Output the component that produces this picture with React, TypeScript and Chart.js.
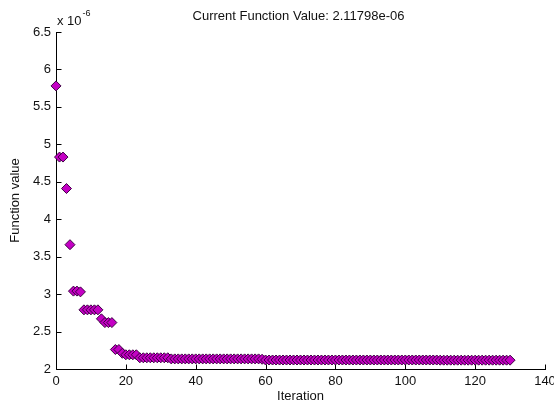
import React, { useEffect, useRef } from "react";
import { Chart, registerables } from "chart.js";

Chart.register(...registerables);

// ---- data (values in units of 1e-6) ----
const chartTitle = "Current Function Value: 2.11798e-06";
const xAxisTitle = "Iteration";
const yAxisTitle = "Function value";
const exponentBase = "x 10";
const exponentPower = "-6";

const xTickValues = [0, 20, 40, 60, 80, 100, 120, 140];
const yTickValues = [2, 2.5, 3, 3.5, 4, 4.5, 5, 5.5, 6, 6.5];

// function value at each iteration 0..130
const functionValues = [
  5.78, 4.83, 4.83, 4.41, 3.66, 3.04, 3.04, 3.03, 2.79, 2.79,
  2.79, 2.79, 2.79, 2.67, 2.62, 2.62, 2.62, 2.26, 2.26, 2.21,
  2.19, 2.19, 2.19, 2.19, 2.15, 2.15, 2.15, 2.15, 2.15, 2.15,
  2.15, 2.15, 2.15, 2.135, 2.135, 2.135, 2.135, 2.135, 2.135, 2.135,
  2.135, 2.135, 2.135, 2.135, 2.135, 2.135, 2.135, 2.135, 2.135, 2.135,
  2.135, 2.135, 2.135, 2.135, 2.135, 2.135, 2.135, 2.135, 2.135, 2.13,
  2.12, 2.12, 2.12, 2.12, 2.12, 2.12, 2.12, 2.12, 2.12, 2.12,
  2.12, 2.12, 2.12, 2.12, 2.12, 2.12, 2.12, 2.12, 2.12, 2.12,
  2.12, 2.12, 2.12, 2.12, 2.12, 2.12, 2.12, 2.12, 2.12, 2.12,
  2.12, 2.12, 2.12, 2.12, 2.12, 2.12, 2.12, 2.12, 2.12, 2.12,
  2.12, 2.12, 2.12, 2.12, 2.12, 2.12, 2.12, 2.12, 2.12, 2.12,
  2.118, 2.118, 2.118, 2.118, 2.118, 2.118, 2.118, 2.118, 2.118, 2.118,
  2.118, 2.118, 2.118, 2.118, 2.118, 2.118, 2.118, 2.118, 2.118, 2.118,
  2.11798,
];

const FONT = '"Liberation Sans", Arial, Helvetica, sans-serif';
const TEXT = "#111111";

const matlabAxes = {
  id: "matlabAxes",
  beforeDatasetsDraw(chart: any) {
    const { ctx, chartArea, scales } = chart;
    const { left, right, top, bottom } = chartArea;
    const x = scales.x;
    const y = scales.y;
    const L = Math.round(left) + 0.5;
    const B = Math.round(bottom) + 0.5;
    ctx.save();
    ctx.strokeStyle = "#000000";
    ctx.lineWidth = 1;
    ctx.beginPath();
    ctx.moveTo(L, Math.round(top));
    ctx.lineTo(L, B);
    ctx.lineTo(Math.round(right) + 1, B);
    yTickValues.forEach((v) => {
      const py = Math.round(y.getPixelForValue(v)) + 0.5;
      ctx.moveTo(L, py);
      ctx.lineTo(L + 5, py);
    });
    xTickValues.forEach((v) => {
      const px = Math.round(x.getPixelForValue(v)) + 0.5;
      ctx.moveTo(px, B);
      ctx.lineTo(px, B - 5);
    });
    ctx.stroke();

    ctx.fillStyle = TEXT;
    ctx.textBaseline = "middle";
    ctx.textAlign = "center";
    ctx.font = `13px ${FONT}`;
    ctx.fillText(chartTitle, (left + right) / 2 - 2, 16);

    ctx.textAlign = "left";
    ctx.font = `13px ${FONT}`;
    ctx.fillText(exponentBase, 57, 21);
    const w = ctx.measureText(exponentBase).width;
    ctx.font = `9px ${FONT}`;
    ctx.fillText(exponentPower, 57 + w + 1, 14);
    ctx.restore();
  },
};

export default function App() {
  const canvasRef = useRef<HTMLCanvasElement | null>(null);

  useEffect(() => {
    const canvas = canvasRef.current;
    if (!canvas) return;
    const points = functionValues.map((v, i) => ({ x: i, y: v }));
    const chart = new Chart(canvas, {
      type: "scatter",
      data: {
        datasets: [
          {
            data: points,
            pointStyle: "rectRot",
            pointRadius: 5,
            pointBackgroundColor: "#c400c4",
            pointBorderColor: "#3c0042",
            pointBorderWidth: 1,
            showLine: false,
            clip: false as any,
          },
        ],
      },
      options: {
        responsive: false,
        animation: false,
        devicePixelRatio: 1,
        layout: { padding: { left: 0, top: 32, right: 9, bottom: 0 } },
        plugins: {
          legend: { display: false },
          tooltip: { enabled: false },
          title: { display: false },
        },
        scales: {
          x: {
            type: "linear",
            min: 0,
            max: 140,
            afterBuildTicks: (scale: any) => {
              scale.ticks = xTickValues.map((v) => ({ value: v }));
            },
            afterFit: (scale: any) => {
              scale.height = 36;
              scale.paddingLeft = 0;
              scale.paddingRight = 0;
            },
            grid: { display: false, drawTicks: false },
            border: { display: false },
            ticks: {
              color: TEXT,
              font: { family: FONT, size: 13 },
              padding: 5,
              maxRotation: 0,
              autoSkip: false,
              callback: (v: any) => String(v),
            },
            title: {
              display: true,
              text: xAxisTitle,
              color: TEXT,
              font: { family: FONT, size: 13 },
              padding: { top: 0, bottom: 1 },
            },
          },
          y: {
            type: "linear",
            min: 2,
            max: 6.5,
            afterBuildTicks: (scale: any) => {
              scale.ticks = yTickValues.map((v) => ({ value: v }));
            },
            afterFit: (scale: any) => {
              scale.width = 56;
            },
            grid: { display: false, drawTicks: false },
            border: { display: false },
            ticks: {
              color: TEXT,
              font: { family: FONT, size: 13 },
              padding: 5,
              autoSkip: false,
              callback: (v: any) => String(v),
            },
            title: {
              display: true,
              text: yAxisTitle,
              color: TEXT,
              font: { family: FONT, size: 13 },
              padding: { top: 8, bottom: 0 },
            },
          },
        },
      },
      plugins: [matlabAxes],
    });
    return () => chart.destroy();
  }, []);

  return (
    <div
      style={{
        position: "absolute",
        left: 0,
        top: 0,
        width: 554,
        height: 405,
        background: "#ffffff",
      }}
    >
      <canvas ref={canvasRef} width={554} height={405} />
    </div>
  );
}
